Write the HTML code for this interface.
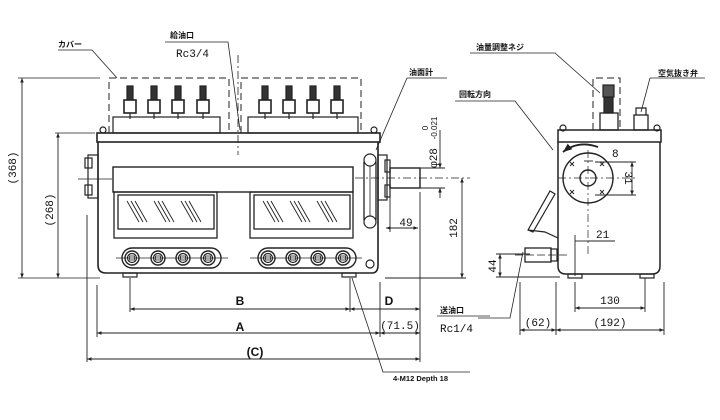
<!DOCTYPE html>
<html><head><meta charset="utf-8"><style>
html,body{margin:0;padding:0;background:#fff;}
svg{display:block;}
text{font-family:"Liberation Sans","Noto Sans CJK JP",sans-serif;fill:#111;}
.j{font-size:8px;font-weight:bold;}
.m{font-family:"Liberation Mono",monospace;font-size:11px;}
</style></head><body>
<svg width="720" height="420" viewBox="0 0 720 420" xmlns="http://www.w3.org/2000/svg" fill="none" stroke="#222" stroke-width="1.2">
<defs>
<marker id="a" viewBox="0 0 10 10" refX="10" refY="5" markerWidth="5" markerHeight="5" orient="auto-start-reverse"><path d="M0,1 L10,5 L0,9 z" fill="#222" stroke="none"/></marker>
<g id="noz">
<rect x="-3" y="86" width="6" height="14" fill="#333" stroke="#222"/>
<rect x="-6" y="100" width="12" height="13" fill="#fff" stroke-width="1.6"/>
<line x1="0" y1="113" x2="0" y2="119"/>
</g>
<g id="bolt"><circle r="7" stroke-width="1.4"/><circle r="4.5" stroke-width="1.2"/><rect x="-2.5" y="-2" width="5" height="4" stroke-width="0.8"/></g>
</defs>

<!-- covers -->
<g stroke-dasharray="7,4" stroke-width="1">
<path d="M109,133 V78 H229 V133"/>
<path d="M241,133 V78 H361 V133"/>
</g>
<rect x="113" y="117" width="107" height="16"/>
<rect x="248" y="117" width="110" height="16"/>
<use href="#noz" x="130"/><use href="#noz" x="154"/><use href="#noz" x="178"/><use href="#noz" x="203"/>
<use href="#noz" x="265"/><use href="#noz" x="289"/><use href="#noz" x="313"/><use href="#noz" x="337"/>

<!-- main body -->
<rect x="97" y="133" width="283" height="9" stroke-width="1.6"/>
<path d="M98,142 V265 Q98,273 106,273 H372 Q378,273 378,265 V142" stroke-width="1.6"/>
<circle cx="103" cy="130" r="3"/><circle cx="374" cy="130" r="3"/>
<rect x="113" y="167" width="240" height="25" stroke-width="1.4"/>
<rect x="114" y="192" width="103" height="46" stroke-width="1.3"/>
<rect x="118" y="195" width="96" height="34" stroke-width="1.3"/>
<rect x="250" y="192" width="103" height="46" stroke-width="1.3"/>
<rect x="254" y="195" width="96" height="34" stroke-width="1.3"/>
<g stroke-width="0.9">
<path d="M127,201 l12,21 M131,201 l12,21 M135,201 l12,21 M154,201 l12,21 M158,201 l12,21 M162,201 l12,21 M181,201 l12,21 M185,201 l12,21 M189,201 l12,21"/>
<path d="M263,201 l12,21 M267,201 l12,21 M271,201 l12,21 M290,201 l12,21 M294,201 l12,21 M298,201 l12,21 M317,201 l12,21 M321,201 l12,21 M325,201 l12,21"/>
</g>
<rect x="122" y="248" width="99" height="20" rx="10" stroke-width="1.4"/>
<rect x="258" y="248" width="98" height="20" rx="10" stroke-width="1.4"/>
<line x1="116" y1="258" x2="228" y2="258" stroke-width="0.8"/>
<line x1="250" y1="258" x2="362" y2="258" stroke-width="0.8"/>
<use href="#bolt" x="132" y="258"/><use href="#bolt" x="158" y="258"/><use href="#bolt" x="183" y="258"/><use href="#bolt" x="208" y="258"/>
<use href="#bolt" x="268" y="258"/><use href="#bolt" x="293" y="258"/><use href="#bolt" x="318" y="258"/><use href="#bolt" x="343" y="258"/>
<rect x="123" y="273" width="14" height="4"/><rect x="342" y="273" width="14" height="4"/>
<!-- left flange -->
<rect x="88" y="155" width="10" height="43"/>
<rect x="85" y="158" width="7" height="10"/><rect x="85" y="185" width="7" height="10"/>
<line x1="78" y1="179" x2="112" y2="179" stroke-width="0.8"/>
<!-- right gauge -->
<rect x="364" y="158" width="12" height="66" rx="5" stroke-width="1.3"/>
<circle cx="370" cy="160" r="6" fill="#fff"/><circle cx="370" cy="222" r="6" fill="#fff"/>
<line x1="370" y1="166" x2="370" y2="216" stroke-width="0.8"/>
<circle cx="370" cy="264" r="4"/>
<rect x="378" y="155" width="9" height="45"/>
<rect x="385" y="160" width="5" height="12"/><rect x="385" y="185" width="5" height="12"/>
<rect x="390" y="168" width="30" height="20" stroke-width="1.4"/>
<line x1="355" y1="178" x2="470" y2="178" stroke-width="0.7" stroke-dasharray="8,3,2,3"/>
<line x1="238" y1="55" x2="238" y2="155" stroke-width="0.8" stroke-dasharray="8,3,2,3"/>

<!-- left dims -->
<line x1="22" y1="78" x2="22" y2="278" marker-start="url(#a)" marker-end="url(#a)" stroke-width="0.9"/>
<line x1="18" y1="78" x2="100" y2="78" stroke-width="0.8"/>
<line x1="58" y1="133" x2="58" y2="278" marker-start="url(#a)" marker-end="url(#a)" stroke-width="0.9"/>
<line x1="55" y1="133" x2="95" y2="133" stroke-width="0.8"/>
<line x1="18" y1="278" x2="100" y2="278" stroke-width="0.8"/>
<text class="m" transform="translate(16,168) rotate(-90)" text-anchor="middle" stroke="none">(368)</text>
<text class="m" transform="translate(53,210) rotate(-90)" text-anchor="middle" stroke="none">(268)</text>

<!-- bottom dims -->
<g stroke-width="0.9">
<line x1="87" y1="215" x2="87" y2="362"/>
<line x1="97" y1="285" x2="97" y2="337"/>
<line x1="130" y1="278" x2="130" y2="312"/>
<line x1="350" y1="278" x2="350" y2="312"/>
<line x1="380" y1="282" x2="380" y2="337"/>
<line x1="420" y1="192" x2="420" y2="362"/>
<line x1="130" y1="309" x2="350" y2="309" marker-start="url(#a)" marker-end="url(#a)"/>
<line x1="350" y1="309" x2="420" y2="309" marker-start="url(#a)" marker-end="url(#a)"/>
<line x1="97" y1="333" x2="380" y2="333" marker-start="url(#a)" marker-end="url(#a)"/>
<line x1="380" y1="333" x2="420" y2="333" marker-start="url(#a)" marker-end="url(#a)"/>
<line x1="87" y1="359" x2="420" y2="359" marker-start="url(#a)" marker-end="url(#a)"/>
<line x1="386" y1="228" x2="418" y2="228" marker-start="url(#a)" marker-end="url(#a)"/>
<line x1="390" y1="192" x2="390" y2="232"/>
<line x1="462" y1="178" x2="462" y2="278" marker-start="url(#a)" marker-end="url(#a)"/>
<line x1="385" y1="278" x2="466" y2="278"/>
<line x1="440" y1="130" x2="440" y2="168" marker-end="url(#a)"/>
<line x1="440" y1="198" x2="440" y2="188" marker-end="url(#a)"/>
<line x1="420" y1="168" x2="445" y2="168"/><line x1="420" y1="188" x2="445" y2="188"/>
</g>
<text x="240" y="305" font-size="12" font-weight="bold" text-anchor="middle" stroke="none">B</text>
<text x="389" y="305" font-size="12" font-weight="bold" text-anchor="middle" stroke="none">D</text>
<text x="240" y="331" font-size="12" font-weight="bold" text-anchor="middle" stroke="none">A</text>
<text x="255" y="356" font-size="12" font-weight="bold" text-anchor="middle" stroke="none">(C)</text>
<text class="m" x="400" y="329" text-anchor="middle" stroke="none">(71.5)</text>
<text class="m" x="406" y="226" text-anchor="middle" stroke="none">49</text>
<text class="m" transform="translate(457,228) rotate(-90)" text-anchor="middle" stroke="none">182</text>
<text class="m" transform="translate(437,158) rotate(-90)" text-anchor="middle" stroke="none">φ28</text>
<text transform="translate(428,128) rotate(-90)" font-size="8" text-anchor="middle" stroke="none">0</text>
<text transform="translate(437,128) rotate(-90)" font-size="8" text-anchor="middle" stroke="none">-0.021</text>

<!-- leaders -->
<g stroke-width="0.8">
<path d="M58,50 H92 L117,78"/>
<path d="M165,42 H228 L240,130"/>
<path d="M407,78 H447 M407,78 L376,150"/>
<path d="M352,278 L383,372 H470"/>
<path d="M455,101 H515 L553,150"/>
<path d="M470,53 H555 L600,93"/>
<path d="M650,78 H705 M650,78 L641,112"/>
<path d="M437,316 H490 M478,318 H510 L523,252"/>
</g>
<text class="j" x="58" y="47" stroke="none">カバー</text>
<text class="j" x="170" y="38" stroke="none">給油口</text>
<text class="m" x="176" y="57" stroke="none" font-size="10">Rc3/4</text>
<text class="j" x="409" y="75" stroke="none">油面計</text>
<text class="j" x="459" y="97" stroke="none">回転方向</text>
<text class="j" x="476" y="50" stroke="none">油量調整ネジ</text>
<text class="j" x="658" y="76" stroke="none">空気抜き弁</text>
<text class="j" x="440" y="313" stroke="none">送油口</text>
<text class="m" x="440" y="332" stroke="none" font-size="10">Rc1/4</text>
<text x="393" y="381" font-size="7.5" font-weight="bold" stroke="none">4-M12 Depth 18</text>

<!-- side view -->
<rect x="558" y="130" width="103" height="12" stroke-width="1.5"/>
<path d="M558,142 V266 Q558,274 566,274 H652 Q660,274 660,266 V142" stroke-width="1.5"/>
<circle cx="563" cy="128" r="3"/><circle cx="657" cy="128" r="3"/>
<rect x="600" y="113" width="18" height="17" stroke-width="1.3"/>
<rect x="604" y="97" width="9" height="16" fill="#333"/>
<rect x="603" y="85" width="11" height="12" fill="#555"/>
<path d="M593,130 V78 H620 V130" stroke-dasharray="7,4" stroke-width="1"/>
<rect x="634" y="115" width="14" height="15" stroke-width="1.3"/>
<path d="M636,115 V108 H646 V115"/>
<circle cx="588" cy="178" r="25" stroke-width="1.4"/>
<circle cx="588" cy="178" r="8" stroke-width="1.4"/>
<line x1="558" y1="178" x2="635" y2="178" stroke-width="0.7" stroke-dasharray="8,3,2,3"/>
<line x1="588" y1="150" x2="588" y2="255" stroke-width="0.7" stroke-dasharray="8,3,2,3"/>
<g stroke-width="0.9"><path d="M570,162 l4,4 m0,-4 l-4,4 M600,162 l4,4 m0,-4 l-4,4 M570,190 l4,4 m0,-4 l-4,4 M600,190 l4,4 m0,-4 l-4,4"/></g>
<path d="M598,147 Q578,140 563,152" stroke-width="1.8" marker-end="url(#a)"/>
<g stroke-width="0.9">
<line x1="632" y1="162" x2="632" y2="195" marker-start="url(#a)" marker-end="url(#a)"/>
<line x1="595" y1="162" x2="636" y2="162"/><line x1="595" y1="195" x2="636" y2="195"/>
<line x1="584" y1="161" x2="593" y2="161"/>
<line x1="575" y1="235" x2="575" y2="276"/>
<line x1="575" y1="241" x2="588" y2="241"/>
<line x1="588" y1="241" x2="615" y2="241"/>
<line x1="575" y1="282" x2="575" y2="312"/><line x1="645" y1="278" x2="645" y2="312"/>
<line x1="575" y1="308" x2="645" y2="308" marker-start="url(#a)" marker-end="url(#a)"/>
<line x1="520" y1="282" x2="520" y2="335"/><line x1="556" y1="282" x2="556" y2="335"/><line x1="664" y1="282" x2="664" y2="335"/>
<line x1="520" y1="330" x2="556" y2="330" marker-start="url(#a)" marker-end="url(#a)"/>
<line x1="556" y1="330" x2="664" y2="330" marker-start="url(#a)" marker-end="url(#a)"/>
<line x1="500" y1="254" x2="500" y2="277" marker-start="url(#a)" marker-end="url(#a)"/>
<line x1="496" y1="254" x2="530" y2="254"/><line x1="496" y1="277" x2="560" y2="277"/>
</g>
<text class="m" x="612" y="157" stroke="none">8</text>
<text class="m" transform="translate(625,178) rotate(90)" text-anchor="middle" stroke="none">31</text>
<text class="m" x="596" y="238" stroke="none">21</text>
<text class="m" x="610" y="304" text-anchor="middle" stroke="none">130</text>
<text class="m" x="538" y="326" text-anchor="middle" stroke="none">(62)</text>
<text class="m" x="610" y="326" text-anchor="middle" stroke="none">(192)</text>
<text class="m" transform="translate(496,266) rotate(-90)" text-anchor="middle" stroke="none">44</text>
<!-- chute -->
<path d="M528,230 L550,191 L555,194 L533,232 Z" stroke-width="1.2"/>
<path d="M528,230 L545,232 L558,238"/>
<!-- outlet -->
<rect x="525" y="248" width="26" height="14" stroke-width="1.3"/>
<rect x="551" y="249" width="6" height="12"/>
<line x1="515" y1="255" x2="570" y2="255" stroke-width="0.7" stroke-dasharray="8,3"/>
<rect x="568" y="274" width="14" height="4"/><rect x="640" y="274" width="14" height="4"/>
</svg>
</body></html>
